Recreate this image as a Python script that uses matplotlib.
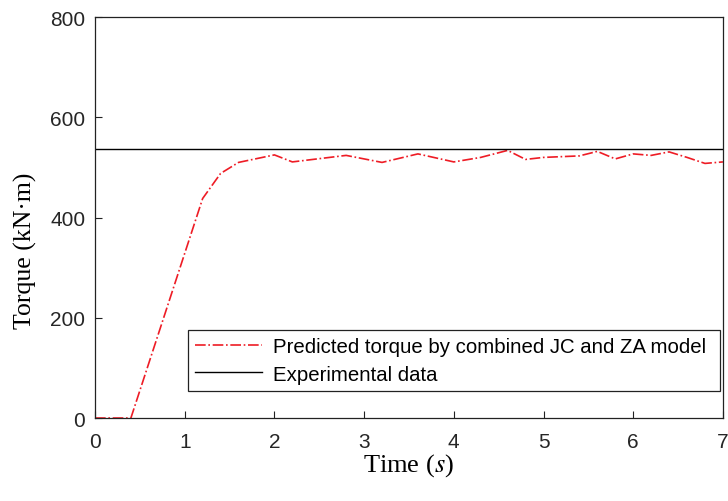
import matplotlib.pyplot as plt
import numpy as np

# predicted torque (combined JC + ZA model)
t_pred = [0, 0.4, 1.2, 1.4, 1.6, 2.0, 2.2, 2.8, 3.2, 3.6, 4.0, 4.3, 4.6, 4.8,
          5.0, 5.4, 5.6, 5.8, 6.0, 6.2, 6.4, 6.6, 6.8, 7.0]
tq_pred = [0, 0, 438, 488, 510, 525, 511, 524, 510, 527, 511, 520, 534, 516,
           520, 523, 532, 517, 527, 524, 531, 520, 508, 511]

# experimental torque (constant)
t_exp = [0, 7]
tq_exp = [537, 537]

plt.rcParams['font.family'] = 'Liberation Sans'
plt.rcParams['mathtext.fontset'] = 'stix'

fig = plt.figure(figsize=(7.28, 5.02), dpi=100)
ax = fig.add_axes([0.1305, 0.1653, 0.8625, 0.7987])
ax.plot(t_pred, tq_pred, color='#ee1c25', ls='-.', lw=1.2,
        label='Predicted torque by combined JC and ZA model')
ax.plot(t_exp, tq_exp, color='black', lw=1.0, label='Experimental data')

ax.set_xlim(0, 7)
ax.set_ylim(0, 800)
ax.set_xticks(range(0, 8))
ax.set_yticks([0, 200, 400, 600, 800])
ax.tick_params(direction='in', length=5, labelsize=15, top=False, right=False,
               colors='#222222', labelcolor='#262626')
ax.tick_params(axis='x', pad=10)
ax.tick_params(axis='y', pad=7)
for s in ax.spines.values():
    s.set_color('#222222')
    s.set_linewidth(0.9)

ax.set_xlabel('Time ($s$)', family='Liberation Serif', fontsize=19, labelpad=0)
ax.set_ylabel('Torque (kN·m)', family='Liberation Serif', fontsize=18.5)
ax.yaxis.set_label_coords(-0.092, 0.42)

leg = ax.legend(loc='lower left', bbox_to_anchor=(0.148, 0.068, 0.847, 0.16),
                mode='expand', fontsize=14.7, fancybox=False, framealpha=1,
                edgecolor='#222222', handlelength=3.3, handletextpad=0.5,
                labelspacing=0.4, borderaxespad=0, borderpad=0.35)
leg.get_frame().set_linewidth(0.9)

fig.savefig('out.png', dpi=100)
